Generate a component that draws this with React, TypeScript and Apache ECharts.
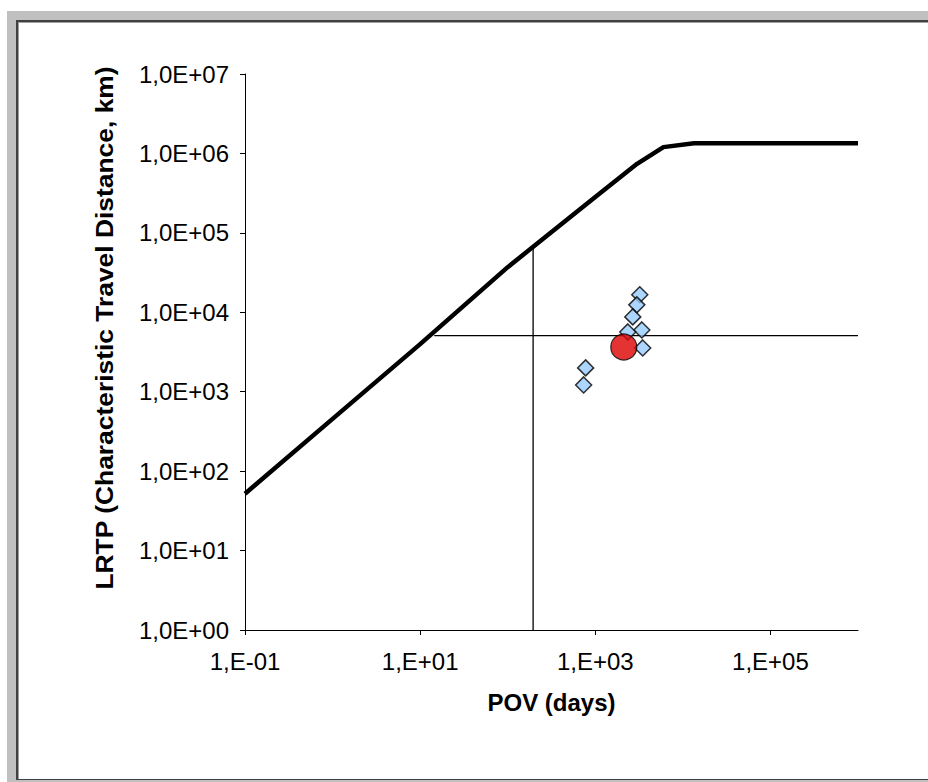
import React, { useEffect, useRef } from "react";
import * as echarts from "echarts";

// Boundary curve (Pov in days, LRTP in km)
const curvePov = [0.1, 1, 10, 100, 1000, 3000, 6000, 13400, 1000000];
const curveLrtp = [52, 455, 3970, 37000, 283000, 740000, 1200000, 1340000, 1340000];

// Reference thresholds
const refPovLine = [195, 195];
const refPovLineLrtp = [1, 69000];
const refLrtpLinePov = [14.5, 1000000];
const refLrtpLine = [5097, 5097];

// Reference chemicals (blue diamonds)
const refChemPov = [3220, 2980, 2680, 3400, 2350, 3480, 776, 736];
const refChemLrtp = [16600, 12400, 8750, 6000, 5660, 3560, 1995, 1218];

// Assessed chemical (red circle)
const chemPov = [2115];
const chemLrtp = [3665];

// Tick labels
const xTickExps = [-1, 1, 3, 5];
const yTickExps = [0, 1, 2, 3, 4, 5, 6, 7];

const L = (v: number) => Math.log10(v);
const pairs = (xs: number[], ys: number[]) => xs.map((x, i) => [L(x), L(ys[i])]);

const FONT = "Liberation Sans, Arial, sans-serif";
const FS = 24;

export default function App() {
  const ref = useRef<HTMLDivElement>(null);
  useEffect(() => {
    document.body.style.margin = "0";
    const chart = echarts.init(ref.current!, null, { renderer: "svg" });
    chart.setOption({
      animation: false,
      grid: { left: 245, top: 74, right: 70, bottom: 152, containLabel: false },
      xAxis: {
        type: "value",
        min: -1,
        max: 6,
        interval: 2,
        name: "POV (days)",
        nameLocation: "middle",
        nameGap: 60,
        nameTextStyle: { fontFamily: FONT, fontSize: FS, fontWeight: "bold", color: "#000" },
        axisLine: { onZero: false, lineStyle: { color: "#000", width: 1 } },
        axisTick: { show: true, length: 5, customValues: xTickExps, lineStyle: { color: "#000" } },
        axisLabel: {
          customValues: xTickExps,
          margin: 19,
          fontFamily: FONT,
          fontSize: FS,
          color: "#000",
          formatter: (v: number) => "1,E" + (v < 0 ? "-" : "+") + String(Math.abs(Math.round(v))).padStart(2, "0"),
        },
        splitLine: { show: false },
      },
      yAxis: {
        type: "value",
        min: 0,
        max: 7,
        interval: 1,
        axisLine: { show: true, onZero: false, lineStyle: { color: "#000", width: 1 } },
        axisTick: { show: true, length: 5, customValues: yTickExps, lineStyle: { color: "#000" } },
        axisLabel: {
          customValues: yTickExps,
          margin: 16,
          fontFamily: FONT,
          fontSize: FS,
          color: "#000",
          formatter: (v: number) => "1,0E+" + String(Math.round(v)).padStart(2, "0"),
        },
        splitLine: { show: false },
      },
      graphic: [
        {
          type: "text",
          x: 104,
          y: 328,
          rotation: Math.PI / 2,
          scaleX: 1.1,
          style: {
            text: "LRTP (Characteristic Travel Distance, km)",
            fontFamily: FONT,
            fontSize: FS,
            fontWeight: "bold",
            fill: "#000",
            align: "center",
            verticalAlign: "middle",
          },
        },
      ],
      series: [
        {
          type: "line",
          data: pairs(refPovLine, refPovLineLrtp),
          symbol: "none",
          lineStyle: { color: "#000", width: 1.3 },
          z: 2,
        },
        {
          type: "line",
          data: pairs(refLrtpLinePov, refLrtpLine),
          symbol: "none",
          lineStyle: { color: "#000", width: 1.3 },
          z: 2,
        },
        {
          type: "line",
          data: pairs(curvePov, curveLrtp),
          symbol: "none",
          lineStyle: { color: "#000", width: 4.5 },
          z: 3,
        },
        {
          type: "scatter",
          data: pairs(refChemPov, refChemLrtp),
          symbol: "diamond",
          symbolSize: [16, 16],
          itemStyle: { color: "#99ccff", borderColor: "#000", borderWidth: 1.5 },
          z: 4,
        },
        {
          type: "scatter",
          data: pairs(chemPov, chemLrtp),
          symbol: "circle",
          symbolSize: 26,
          itemStyle: { color: "#dd0000", borderColor: "#000", borderWidth: 1.2 },
          z: 5,
        },
      ],
    });
    return () => chart.dispose();
  }, []);

  return (
    <div style={{ position: "absolute", left: 0, top: 0, width: 928, height: 782, background: "#fff", overflow: "hidden" }}>
      <div style={{ position: "absolute", left: 7, top: 11, width: 921, height: 771, background: "#c0c0c0" }} />
      <div style={{ position: "absolute", left: 16, top: 20, width: 912, height: 760, background: "#404040" }} />
      <div style={{ position: "absolute", left: 18, top: 22, width: 910, height: 757, background: "#a0a0a0" }} />
      <div style={{ position: "absolute", left: 19, top: 23, width: 909, height: 756, background: "#fff" }} />
      <div ref={ref} style={{ position: "absolute", left: 0, top: 0, width: 928, height: 782 }} />
    </div>
  );
}
